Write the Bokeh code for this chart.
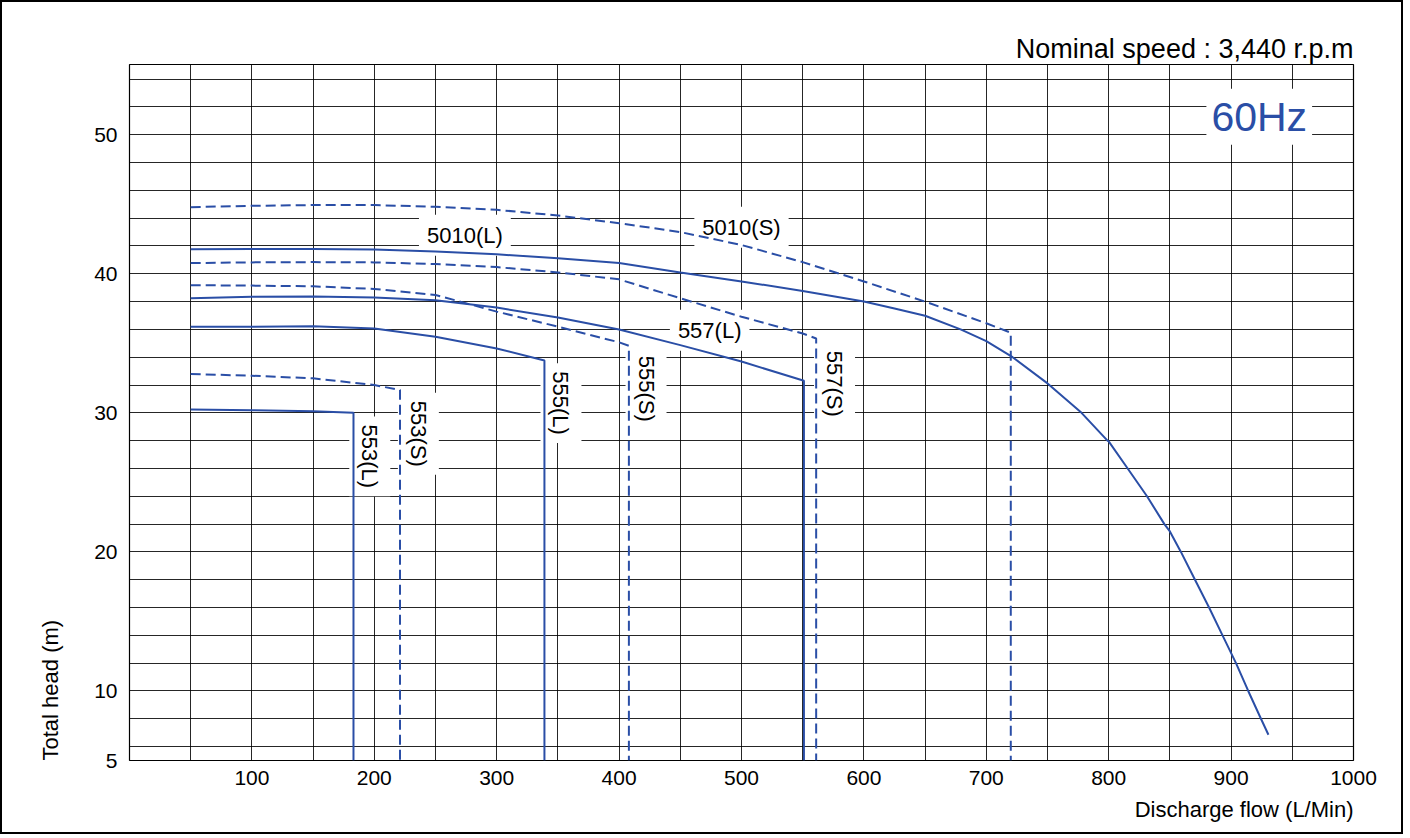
import math
from bokeh.plotting import figure
from bokeh.models import FixedTicker, ColumnDataSource, Range1d, Title
from bokeh.core.properties import value
from bokeh.embed import file_html
from bokeh.resources import INLINE

FONT = "Liberation Sans"
BLUE = "#2a4ea6"

# ---- data: discharge flow (L/Min) vs total head (m) ----
q_5010L = [50, 100, 150, 200, 250, 300, 350, 400, 450, 500, 550, 600, 625, 650, 679, 700, 721.5, 750, 751.5,
           777.8, 799, 800, 815.5, 831.3, 845.5, 850, 859, 870.5, 882, 893, 904, 914, 924.4, 930.5]
h_5010L = [41.76, 41.78, 41.78, 41.74, 41.6, 41.4, 41.11, 40.77, 40.1, 39.45, 38.77, 38.0, 37.5, 36.98, 36.0, 35.16, 34.0, 32.12, 32.0,
           30.0, 28.0, 27.95, 26.0, 24.0, 22.0, 21.47, 20.0, 18.0, 16.0, 14.0, 12.0, 10.0, 8.0, 6.85]

q_5010S = [50, 100, 150, 200, 250, 300, 350, 400, 450, 500, 550, 600, 650, 700, 720, 720]
h_5010S = [44.79, 44.89, 44.94, 44.94, 44.82, 44.6, 44.19, 43.64, 43.0, 42.07, 40.84, 39.45, 38.0, 36.44, 35.76, 5]

q_557S = [50, 100, 150, 200, 250, 300, 350, 400, 450, 500, 550, 561, 561]
h_557S = [40.77, 40.82, 40.84, 40.82, 40.7, 40.48, 40.1, 39.6, 38.24, 36.91, 35.71, 35.35, 5]

q_557L = [50, 100, 150, 200, 250, 300, 350, 400, 450, 500, 551, 551]
h_557L = [38.24, 38.34, 38.36, 38.29, 38.1, 37.57, 36.85, 36.0, 34.87, 33.69, 32.31, 5]

q_555S = [50, 100, 150, 200, 250, 300, 350, 400, 408, 408]
h_555S = [39.18, 39.15, 39.1, 38.91, 38.48, 37.28, 36.2, 35.07, 34.82, 5]

q_555L = [50, 100, 150, 200, 250, 300, 339, 339]
h_555L = [36.19, 36.19, 36.22, 36.07, 35.47, 34.63, 33.76, 5]

q_553S = [50, 100, 150, 200, 221, 221]
h_553S = [32.79, 32.67, 32.48, 32.0, 31.64, 5]

q_553L = [50, 100, 150, 183, 183]
h_553L = [30.24, 30.19, 30.12, 30.0, 5]

x_ticks = [100, 200, 300, 400, 500, 600, 700, 800, 900, 1000]
y_ticks = [5, 10, 20, 30, 40, 50]

# curve labels
lab_text = ["5010(L)", "5010(S)", "557(L)", "557(S)", "555(S)", "555(L)", "553(S)", "553(L)"]
lab_q = [274, 500, 474, 576, 422, 352.5, 236, 196.3]
lab_h = [42.77, 43.35, 35.94, 32.09, 31.73, 30.7, 28.5, 26.87]
lab_vertical = [False, False, False, True, True, True, True, True]

p = figure(width=1403, height=834, x_range=Range1d(0, 1000), y_range=Range1d(5, 55.05),
           output_backend="svg", toolbar_location=None,
           min_border_left=127, min_border_right=52, min_border_top=62, min_border_bottom=76)
p.styles = {"border": "2px solid black"}

p.title.text = "Nominal speed : 3,440 r.p.m"
p.title.align = "right"
p.title.text_font = FONT
p.title.text_font_size = "27px"
p.title.text_font_style = "normal"
p.title.text_color = "black"
p.title.standoff = 1

for ax in (p.xaxis, p.yaxis):
    ax.major_tick_line_color = None
    ax.minor_tick_line_color = None
    ax.axis_line_color = None
    ax.major_label_text_font = FONT
    ax.major_label_text_font_size = "21px"
    ax.major_label_text_font_style = "normal"
    ax.major_label_text_color = "black"
p.xaxis.ticker = FixedTicker(ticks=x_ticks)
p.yaxis.ticker = FixedTicker(ticks=y_ticks)
p.xaxis.major_label_standoff = 4
p.yaxis.major_label_standoff = 6

p.xgrid.ticker = FixedTicker(ticks=list(range(0, 1001, 50)))
p.ygrid.ticker = FixedTicker(ticks=list(range(6, 55, 2)))
for g in (p.xgrid, p.ygrid):
    g.grid_line_color = "black"
    g.grid_line_alpha = 0.85
    g.grid_line_width = 1
p.outline_line_color = "black"
p.outline_line_width = 1.2

# axis titles as side titles (left: bottom-aligned, below: right-aligned)
p.add_layout(Title(text="Total head (m)", align="left", text_font=FONT, text_font_size="22px",
                   text_font_style="normal", text_color="black", standoff=58), "left")
p.add_layout(Title(text="Discharge flow (L/Min)", align="right", text_font=FONT, text_font_size="22px",
                   text_font_style="normal", text_color="black", standoff=14), "below")

# labels with white boxes (drawn before curves so curves stay on top)
src = ColumnDataSource(dict(x=lab_q, y=lab_h, text=lab_text,
                            angle=[-math.pi / 2 if v else 0 for v in lab_vertical]))
p.text(x="x", y="y", text="text", angle="angle", source=src,
       text_font=value(FONT), text_font_size="22px", text_color="black",
       text_align="center", text_baseline="middle",
       background_fill_color="white", padding=8)

p.text(x=[923], y=[51.3], text=["60Hz"], text_font=value(FONT), text_font_size="41px",
       text_color=BLUE, text_align="center", text_baseline="middle",
       background_fill_color="white", padding=5)

solid = [(q_5010L, h_5010L), (q_557L, h_557L), (q_555L, h_555L), (q_553L, h_553L)]
dashed = [(q_5010S, h_5010S), (q_557S, h_557S), (q_555S, h_555S), (q_553S, h_553S)]
for q, h in solid:
    p.line(q, h, line_color=BLUE, line_width=2)
for q, h in dashed:
    p.line(q, h, line_color=BLUE, line_width=2, line_dash="10 5")

open("out.html", "w").write(file_html(p, INLINE))
